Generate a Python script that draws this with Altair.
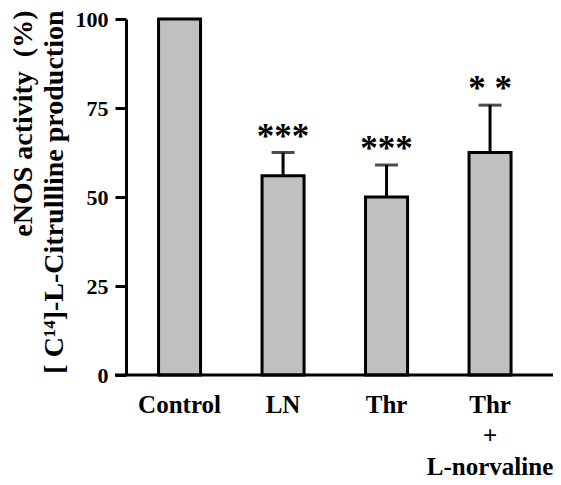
import altair as alt
import pandas as pd

categories = ["Control", "LN", "Thr", "Thr|+|L-norvaline"]
means = [100, 56, 50, 62.5]
sems = [0, 6.5, 9, 13.3]
stars = ["", "***", "***", "* *"]

df = pd.DataFrame({"cat": categories, "mean": means, "sem": sems, "star": stars})
df["upper"] = df["mean"] + df["sem"]

W, H = 427, 356
FONT = "Liberation Serif"

xscale = alt.Scale(domain=categories, range=[1.8, 415.8], paddingInner=0.594, paddingOuter=0.297)
yscale = alt.Scale(domain=[0, 100], nice=False)

xenc = alt.X("cat:N", sort=categories, scale=xscale,
             axis=alt.Axis(title=None, labelExpr="split(datum.label, '|')"))

base = alt.Chart(df)

bars = base.mark_bar(fill="#c0c0c0", stroke="black", strokeWidth=3).encode(
    x=xenc,
    y=alt.Y("mean:Q", scale=yscale,
            axis=alt.Axis(values=[0, 25, 50, 75, 100],
                          title=["eNOS activity\u00a0\u00a0(%)", "[ C¹⁴]-L-Citrullline production"])),
)

err_df = base.transform_filter("datum.sem > 0")

stems = err_df.mark_rule(color="black", strokeWidth=3).encode(
    x=xenc,
    y=alt.Y("mean:Q", scale=yscale),
    y2="upper:Q",
)

caps = err_df.mark_tick(color="black", thickness=3, size=23, orient="horizontal").encode(
    x=xenc,
    y=alt.Y("upper:Q", scale=yscale),
)

star_text = err_df.mark_text(font=FONT, fontWeight="bold", fontSize=35, baseline="middle",
                             dy=-16, color="black").encode(
    x=xenc,
    y=alt.Y("upper:Q", scale=yscale),
    text="star:N",
)

baseline = alt.Chart(pd.DataFrame({"z": [0]})).mark_rule(color="black", strokeWidth=3).encode(
    y=alt.Y("z:Q", scale=yscale),
    x=alt.value(-11),
    x2=alt.value(W),
)

chart = alt.layer(bars, stems, caps, star_text, baseline).properties(
    width=W, height=H,
    background="white",
    autosize=alt.AutoSizeParams(type="none"),
    padding={"left": 118, "top": 11, "right": 0, "bottom": 110},
).configure_view(stroke=None).configure_axis(
    grid=False,
).configure_axisY(
    tickSize=11, tickWidth=3, ticks=True, tickColor="black",
    domainColor="black", domainWidth=3,
    labelFont=FONT, labelFontWeight="bold", labelFontSize=22, labelColor="black",
    labelPadding=7,
    titleAngle=270, titleAlign="right", titleBaseline="top",
    titleX=-117, titleY=-9, titleFont=FONT, titleFontWeight="bold",
    titleFontSize=28, titleLineHeight=31, titleColor="black",
).configure_axisX(
    domain=False, ticks=False, labelAngle=0,
    labelFont=FONT, labelFontWeight="bold", labelFontSize=25,
    labelColor="black", labelPadding=17, labelLineHeight=31, labelBaseline="top",
)

chart.save("out.html", embed_options={"renderer": "svg", "actions": False})
